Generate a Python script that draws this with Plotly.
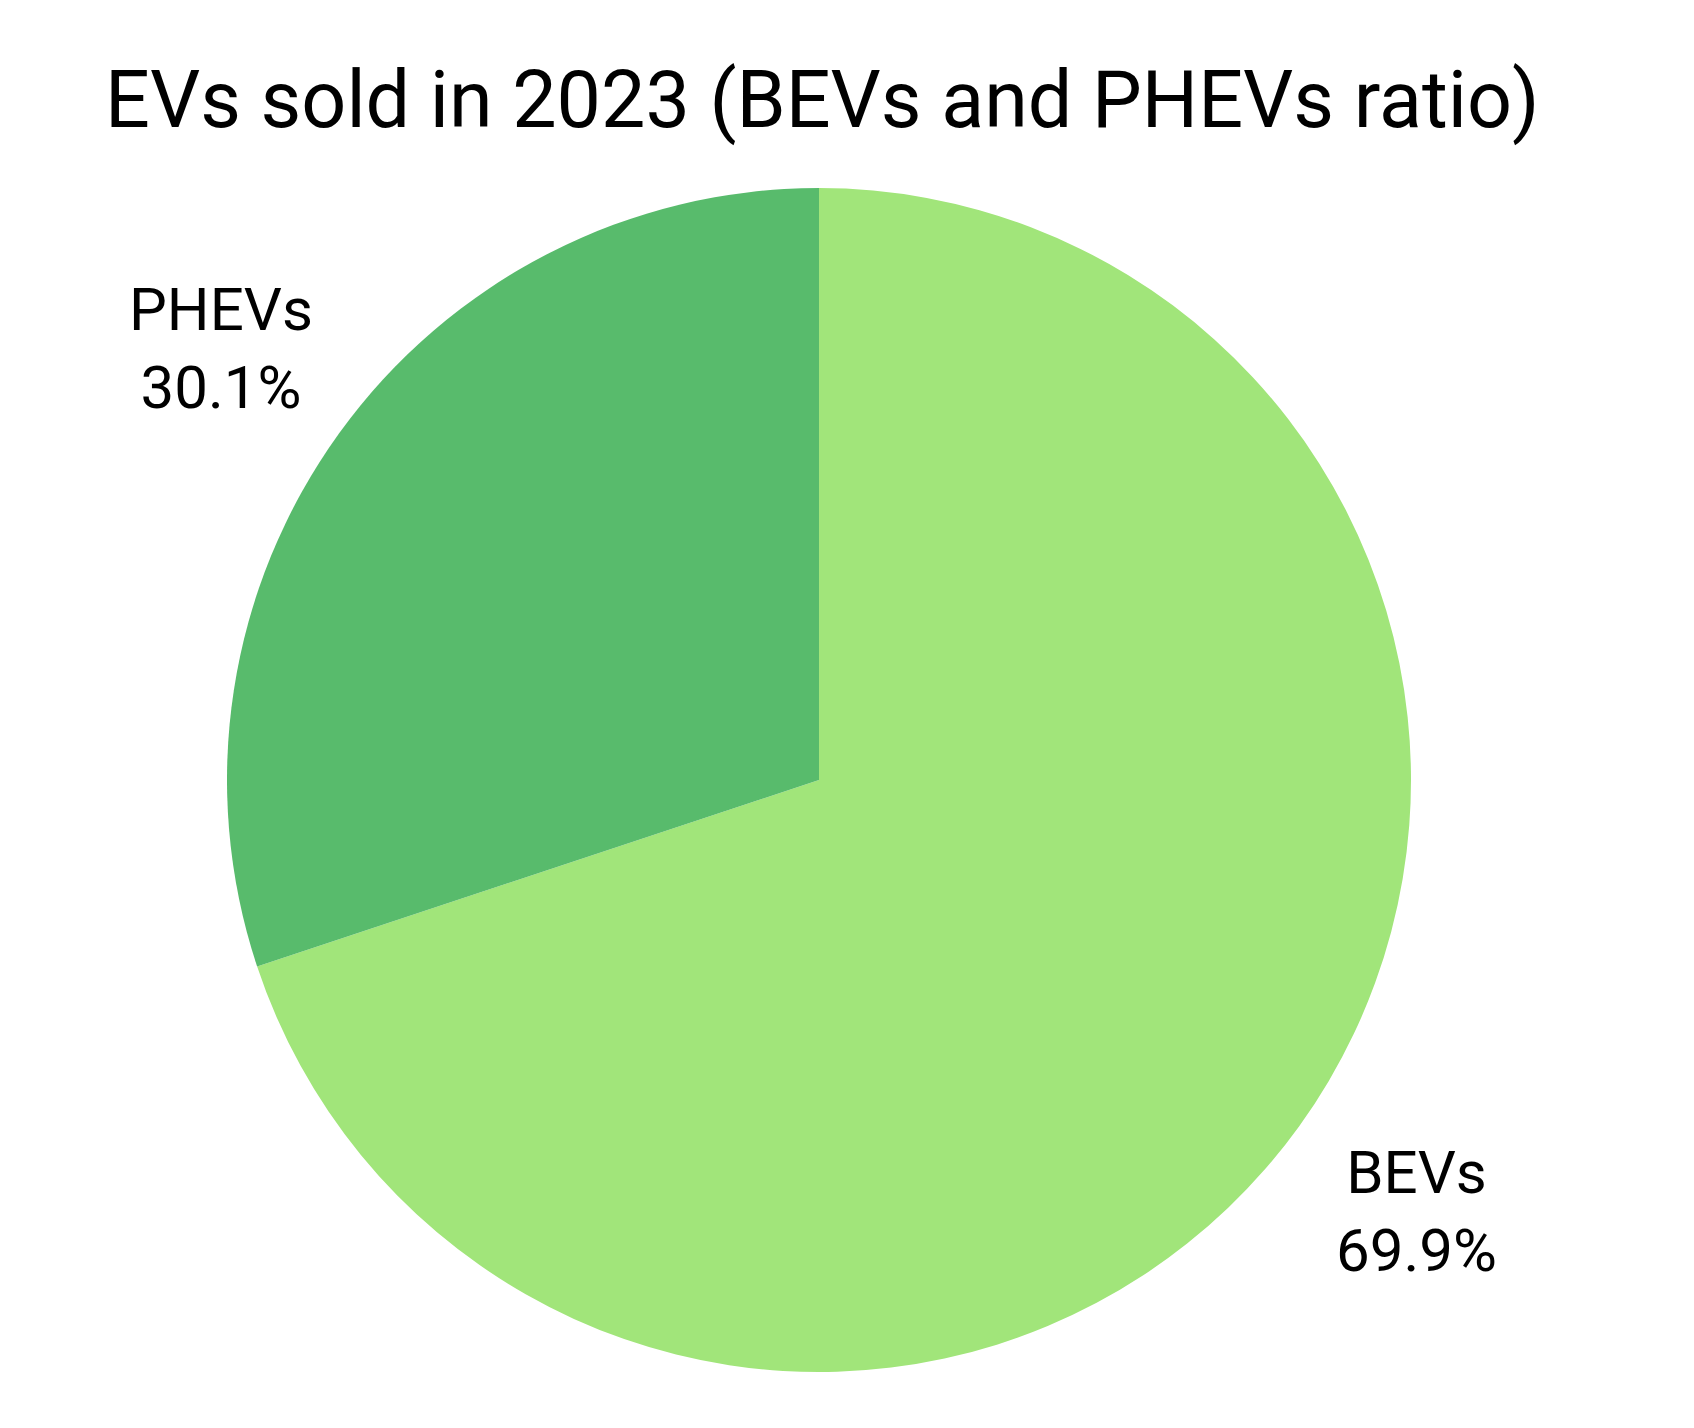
import math
import plotly.graph_objects as go

# Data
labels = ["BEVs", "PHEVs"]
values = [69.9, 30.1]
colors = ["#A1E57A", "#58BB6C"]
title_text = "EVs sold in 2023 (BEVs and PHEVs ratio)"

W, H = 1694, 1428
cx, cy, r = 819, 780, 592  # pie center/radius in pixels

fig = go.Figure(go.Pie(
    labels=labels, values=values, sort=False, direction="clockwise", rotation=0,
    marker=dict(colors=colors, line=dict(width=0)),
    textinfo="none", hoverinfo="label+percent", showlegend=False,
    domain=dict(x=[(cx - r) / W, (cx + r) / W], y=[(H - cy - r) / H, (H - cy + r) / H]),
))

total = sum(values)
start = 0.0
annotations = []
for lab, v in zip(labels, values):
    mid = (start + v / 2) / total * 2 * math.pi
    start += v
    dist = 1.245 * r
    px = cx + dist * math.sin(mid)
    py = cy - dist * math.cos(mid)
    annotations.append(dict(
        x=px / W, y=1 - py / H, xref="paper", yref="paper",
        text=f"{lab}<br>{v / total * 100:.1f}%", showarrow=False,
        font=dict(family="Roboto", size=60, color="#000000"),
        xanchor="center", yanchor="middle", align="center",
    ))

fig.update_layout(
    width=W, height=H, margin=dict(l=0, r=0, t=0, b=0),
    paper_bgcolor="white", plot_bgcolor="white",
    title=dict(text=title_text, x=105 / W, xanchor="left", y=1 - 99 / H, yanchor="middle",
               font=dict(family="Roboto", size=79, color="#000000")),
    annotations=annotations,
)

fig.write_html("out.html")
